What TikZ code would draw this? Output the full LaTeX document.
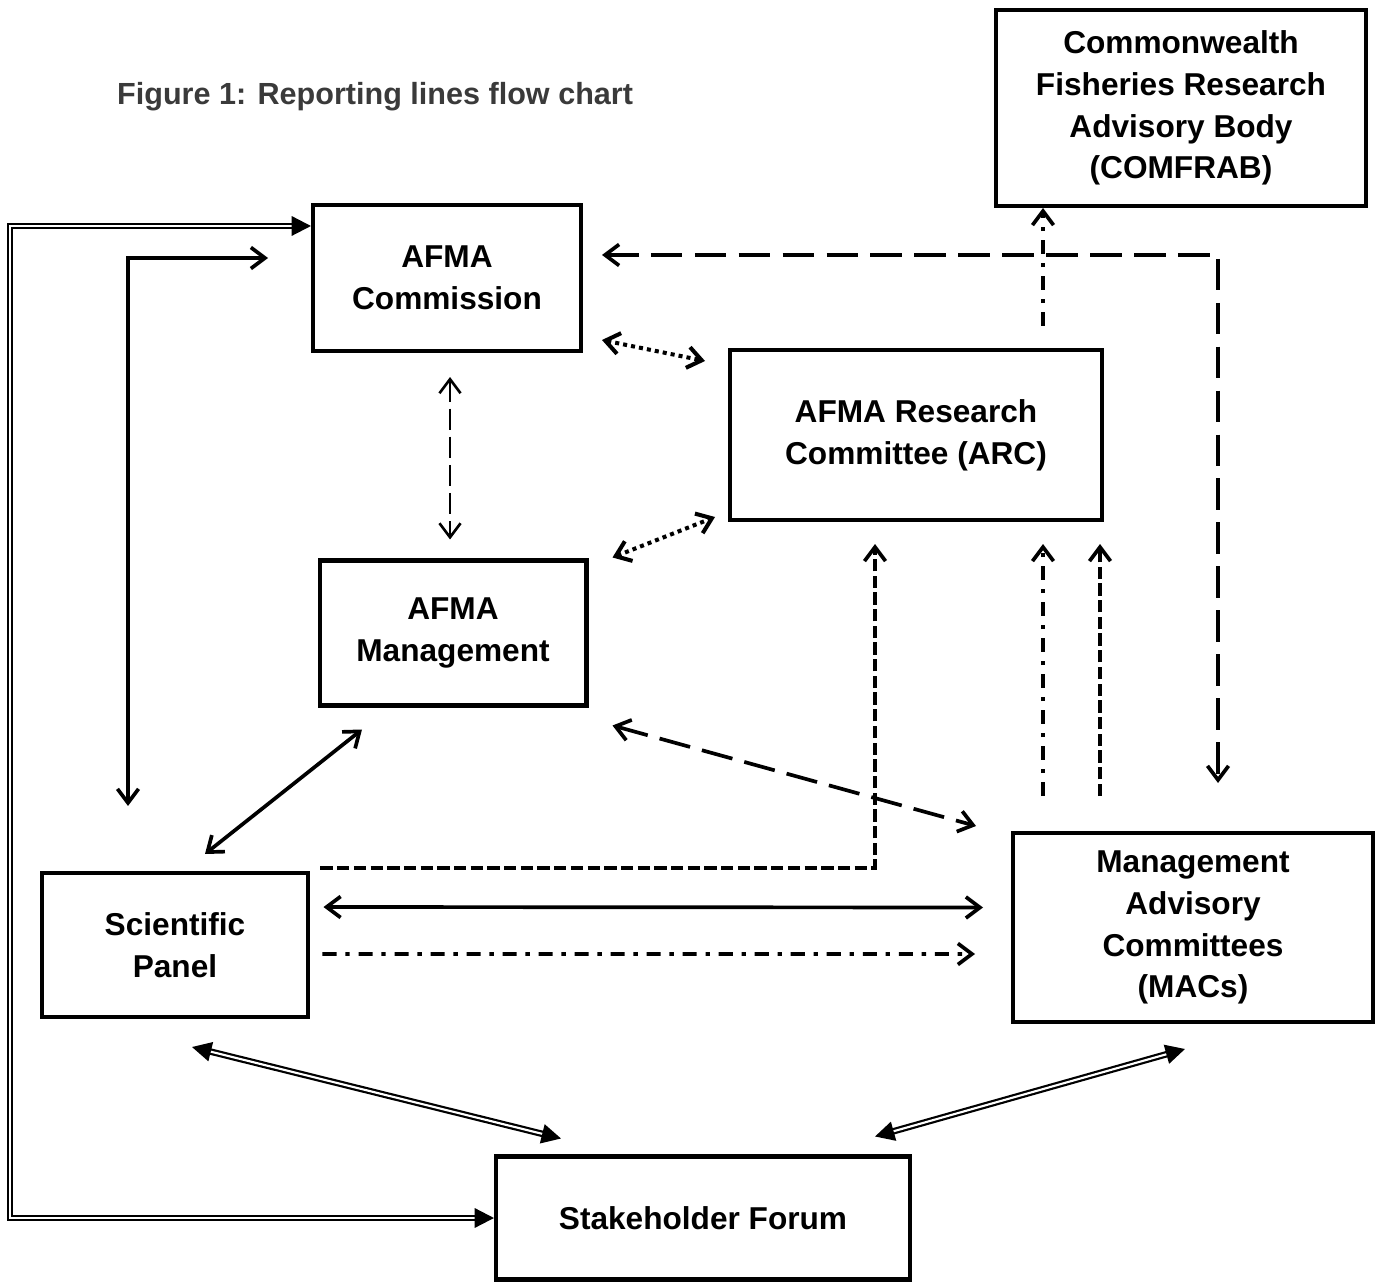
\documentclass[tikz,border=0pt]{standalone}
\usepackage{fontspec}
\setmainfont{Liberation Sans}
\usetikzlibrary{arrows.meta,calc}
\definecolor{titlegray}{HTML}{3A3A3A}
\tikzset{
  box/.style={draw, line width=2.3pt, align=center, inner sep=0pt,
    font=\bfseries\fontsize{18}{23.8}\selectfont},
  tri/.tip={Triangle[length=11pt,width=11pt]},
  conn/.style={line width=2.1pt},
  dbl/.style={double, line width=1.25pt, double distance=1.2pt, {tri}-{tri}},
  longdashes/.style={dash pattern=on 18pt off 7pt},
  meddashes/.style={dash pattern=on 12pt off 4pt},
  shortdashes/.style={dash pattern=on 7pt off 2.5pt},
  dashdots/.style={dash pattern=on 8pt off 5pt on 2.5pt off 5pt},
  dotline/.style={dash pattern=on 2.3pt off 2.3pt, line width=2.3pt}
}
\begin{document}
\begin{tikzpicture}[x=0.02cm, y=-0.02cm, >={Straight Barb[length=8pt,width=12pt]}]
\useasboundingbox (0,0) rectangle (1376,1283);
\node[anchor=west, text=titlegray, font=\bfseries\fontsize{17.4}{20}\selectfont] (title) at (111,97) {Figure 1: Reporting lines flow chart};
\node[box, minimum width=7.4cm, minimum height=3.92cm] (comfrab) at (1181,108) {Commonwealth\\Fisheries Research\\Advisory Body\\(COMFRAB)};
\node[box, minimum width=5.36cm, minimum height=2.92cm] (comm) at (447,278) {AFMA\\Commission};
\node[box, minimum width=7.44cm, minimum height=3.4cm] (arc) at (916,435) {AFMA Research\\Committee (ARC)};
\node[box, minimum width=5.34cm, minimum height=2.9cm] (mgmt) at (453,633) {AFMA\\Management};
\node[box, minimum width=5.34cm, minimum height=2.88cm] (sp) at (175,945) {Scientific\\Panel};
\node[box, minimum width=7.2cm, minimum height=3.78cm] (macs) at (1193,927.5) {Management\\Advisory\\Committees\\(MACs)};
\node[box, minimum width=8.28cm, minimum height=2.46cm] (forum) at (703,1218) {Stakeholder Forum};
% double lines
\draw[dbl] (forum.west) -- ++(-484,0) |- ($(comm.north west)+(0,23)$);
\draw[dbl] ($(sp.south)+(17,28)$) -- ($(forum.north west)+(67,-16)$);
\draw[dbl] ($(macs.south)+(-8,25)$) -- ($(forum.north east)+(-37,-18)$);
% solid lines
\draw[conn, <->] ($(sp.north)+(-47,-65)$) |- ($(comm.west)+(-43,-20)$);
\draw[conn, <->] ($(mgmt.south)+(-91,22)$) -- ($(sp.north)+(30,-17)$);
\draw[conn, <->] ($(sp.east)+(13,-38)$) -- ($(macs.west)+(-28,-20)$);
% dashed lines
\draw[conn, longdashes, <->] ($(comm.east)+(19,-23)$) -| ($(macs.north)+(25,-48)$);
\draw[conn, longdashes, <->] ($(mgmt.south east)+(24,18)$) -- ($(macs.north west)+(-35,-5)$);
\draw[conn, meddashes, line width=1.5pt, <->] ($(comm.south)+(3,24)$) -- ($(mgmt.north)+(-3,-19)$);
\draw[conn, shortdashes, ->] ($(sp.north east)+(10,-3)$) -| ($(arc.south)+(-41,22)$);
\draw[conn, shortdashes, ->] ($(macs.north)+(-93,-35)$) -- ($(arc.south)+(184,22)$);
% dash-dot lines
\draw[conn, dashdots, ->] ($(arc.north)+(127,-22)$) -- ($(comfrab.south)+(-138,0)$);
\draw[conn, dashdots, ->] ($(macs.north)+(-150,-35)$) -- ($(arc.south)+(127,22)$);
\draw[conn, dashdots, ->] ($(sp.east)+(12,9)$) -- ($(macs.west)+(-36,26.5)$);
% dotted lines
\draw[conn, dotline, <->] ($(comm.south east)+(19,-13)$) -- ($(arc.north west)+(-23,13)$);
\draw[conn, dotline, <->] ($(mgmt.north east)+(24,-1)$) -- ($(arc.south west)+(-13,-5)$);
\end{tikzpicture}
\end{document}
